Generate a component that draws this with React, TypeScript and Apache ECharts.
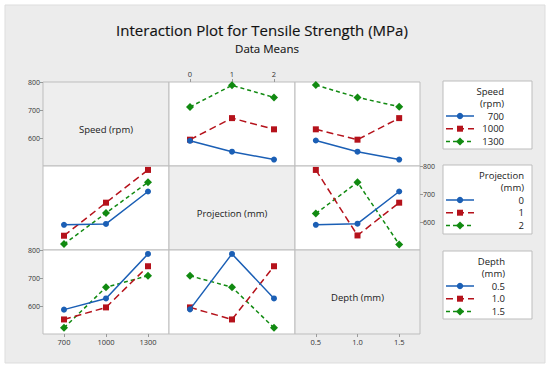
import React, { useEffect, useRef } from 'react';
import * as echarts from 'echarts';

// ---- data ----
const speedLevels = ['700', '1000', '1300'];
const projectionLevels = ['0', '1', '2'];
const depthLevels = ['0.5', '1.0', '1.5'];
const factorNames = ['Speed (rpm)', 'Projection (mm)', 'Depth (mm)'];
const legendTitles = [['Speed', '(rpm)'], ['Projection', '(mm)'], ['Depth', '(mm)']];
const yTicks = [600, 700, 800];
const titleText = 'Interaction Plot for Tensile Strength (MPa)';
const subtitleText = 'Data Means';

// trace factor (rows of array = trace levels) vs x factor
const speedByProjection = [[590, 551, 523], [594, 671, 631], [711, 788, 745]];
const speedByDepth = [[591, 551, 523], [631, 594, 671], [789, 745, 712]];
const projectionBySpeed = [[590, 593, 709], [551, 669, 786], [521, 632, 742]];
const projectionByDepth = [[590, 594, 709], [786, 552, 669], [630, 742, 520]];
const depthBySpeed = [[587, 627, 786], [552, 595, 742], [522, 667, 708]];
const depthByProjection = [[588, 786, 627], [595, 552, 742], [708, 667, 522]];

// ---- styling ----
const levels = [speedLevels, projectionLevels, depthLevels];
const cells: (number[][] | null)[][] = [
  [null, speedByProjection, speedByDepth],
  [projectionBySpeed, null, projectionByDepth],
  [depthBySpeed, depthByProjection, null],
];
const colors = ['#1b5fb5', '#b5121b', '#118a11'];
const symbols = ['circle', 'rect', 'diamond'];
const symbolSizes = [6, 6, 8];
const dashes: any[] = ['solid', [7, 4], [4, 3]];
const FONT = '"Open Sans", "Noto Sans", sans-serif';

const colLeft = [43, 169, 295];
const colWidth = [126, 126, 125];
const rowTop = [82, 166, 250];
const rowH = 84;

export default function App() {
  const ref = useRef<HTMLDivElement>(null);
  useEffect(() => {
    if (!ref.current) return;
    const chart = echarts.init(ref.current, null, { renderer: 'svg' });
    const grids: any[] = [];
    const xAxes: any[] = [];
    const yAxes: any[] = [];
    const series: any[] = [];
    const graphics: any[] = [];

    graphics.push({
      type: 'rect', z: -10,
      shape: { x: 5, y: 5, width: 540, height: 358 },
      style: { fill: '#ececec', stroke: '#dddddd', lineWidth: 1 },
    });
    graphics.push({
      type: 'text', z: 100, x: 262, y: 30,
      style: { text: titleText, font: `15px ${FONT}`, fill: '#111111', stroke: '#111111', lineWidth: 0.15, textAlign: 'center', textVerticalAlign: 'middle' },
    });
    graphics.push({
      type: 'text', z: 100, x: 267, y: 48,
      style: { text: subtitleText, font: `11.5px ${FONT}`, fill: '#111111', stroke: '#111111', lineWidth: 0.1, textAlign: 'center', textVerticalAlign: 'middle' },
    });

    for (let r = 0; r < 3; r++) {
      for (let c = 0; c < 3; c++) {
        const i = r * 3 + c;
        const diag = r === c;
        grids.push({
          left: colLeft[c], top: rowTop[r], width: colWidth[c], height: rowH,
          show: true, backgroundColor: diag ? '#eeeeee' : '#ffffff',
          borderColor: '#bdbdbd', borderWidth: 1,
        });
        const showTopX = r === 0 && c === 1;
        const showBottomX = r === 2 && c !== 1;
        const showX = showTopX || showBottomX;
        xAxes.push({
          type: 'category', gridIndex: i, data: levels[c], boundaryGap: true,
          position: showTopX ? 'top' : 'bottom',
          axisLine: { show: false },
          axisTick: { show: showX, alignWithLabel: true, length: 3, lineStyle: { color: '#999' } },
          axisLabel: { show: showX, fontSize: 7.5, color: '#333', margin: 4, fontFamily: FONT },
          splitLine: { show: false },
        });
        const showRightY = r === 1 && c === 2;
        const showLeftY = c === 0 && r !== 1;
        const showY = showRightY || showLeftY;
        yAxes.push({
          type: 'value', gridIndex: i, min: 500, max: 800,
          position: showRightY ? 'right' : 'left',
          axisLine: { show: false },
          axisTick: { show: showY, length: 3, customValues: yTicks, lineStyle: { color: '#999' } },
          axisLabel: { show: showY, fontSize: 7, color: '#333', margin: 3, customValues: yTicks, fontFamily: FONT },
          splitLine: { show: false },
        });
        if (diag) {
          graphics.push({
            type: 'text', z: 100,
            x: colLeft[c] + colWidth[c] / 2, y: rowTop[r] + rowH / 2 + 5,
            style: { text: factorNames[r], font: `9.5px ${FONT}`, fill: '#1a1a1a', textAlign: 'center', textVerticalAlign: 'middle' },
          });
        }
        const data = cells[r][c];
        if (data) {
          data.forEach((vals, k) => {
            series.push({
              type: 'line', name: levels[r][k], xAxisIndex: i, yAxisIndex: i,
              data: vals, symbol: symbols[k], symbolSize: symbolSizes[k],
              itemStyle: { color: colors[k] },
              lineStyle: { color: colors[k], width: 1.5, type: dashes[k] },
              z: 3 + (2 - k),
            });
          });
        }
      }
    }

    // legends
    const boxes = [
      { y: 81, h: 68, xr: 504 },
      { y: 165, h: 69, xr: 524 },
      { y: 251, h: 68, xr: 505 },
    ];
    boxes.forEach((b, f) => {
      graphics.push({
        type: 'rect', z: 50,
        shape: { x: 443, y: b.y, width: 89, height: b.h },
        style: { fill: '#ffffff', stroke: '#bdbdbd', lineWidth: 1 },
      });
      legendTitles[f].forEach((t, j) => {
        graphics.push({
          type: 'text', z: 100, x: b.xr, y: b.y + 10 + j * 12,
          style: { text: t, font: `9.5px ${FONT}`, fill: '#1a1a1a', textAlign: 'right', textVerticalAlign: 'middle' },
        });
      });
      levels[f].forEach((lv, k) => {
        const yy = b.y + 35 + k * 12.7;
        graphics.push({
          type: 'line', z: 100,
          shape: { x1: 446, y1: yy, x2: 474, y2: yy },
          style: { stroke: colors[k], lineWidth: 1.5, lineDash: k === 0 ? null : dashes[k] },
        });
        if (k === 0) {
          graphics.push({ type: 'circle', z: 101, shape: { cx: 460, cy: yy, r: 3.2 }, style: { fill: colors[k] } });
        } else if (k === 1) {
          graphics.push({ type: 'rect', z: 101, shape: { x: 457, y: yy - 3, width: 6, height: 6 }, style: { fill: colors[k] } });
        } else {
          graphics.push({
            type: 'polygon', z: 101,
            shape: { points: [[460, yy - 4], [464, yy], [460, yy + 4], [456, yy]] },
            style: { fill: colors[k] },
          });
        }
        graphics.push({
          type: 'text', z: 100, x: b.xr, y: yy,
          style: { text: lv, font: `9.5px ${FONT}`, fill: '#1a1a1a', textAlign: 'right', textVerticalAlign: 'middle' },
        });
      });
    });

    chart.setOption({
      animation: false,
      backgroundColor: '#ffffff',
      grid: grids,
      xAxis: xAxes,
      yAxis: yAxes,
      series,
      graphic: { elements: graphics },
    });
    return () => chart.dispose();
  }, []);
  return <div ref={ref} style={{ position: 'absolute', left: 0, top: 0, width: 550, height: 370 }} />;
}
